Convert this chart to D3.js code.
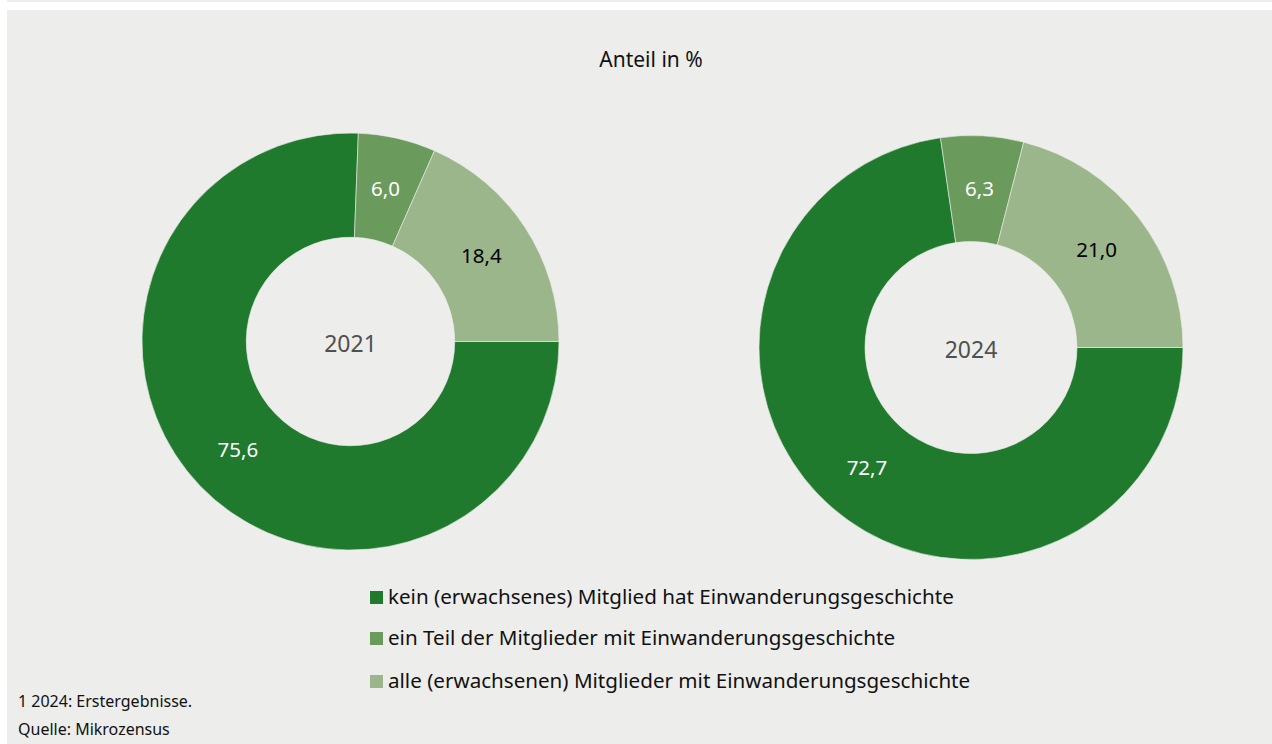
<!DOCTYPE html>
<html><head><meta charset="utf-8">
<script src="https://cdn.jsdelivr.net/npm/d3@7"></script>
<style>
html,body{margin:0;padding:0;background:#fff;}
svg{display:block;font-family:"Noto Sans","Open Sans",sans-serif;}
</style></head>
<body>
<svg id="chart" width="1272" height="744"></svg>
<script>
const categories = [
  "kein (erwachsenes) Mitglied hat Einwanderungsgeschichte",
  "ein Teil der Mitglieder mit Einwanderungsgeschichte",
  "alle (erwachsenen) Mitglieder mit Einwanderungsgeschichte"
];
const years = ["2021", "2024"];
const values2021 = [75.6, 6.0, 18.4];
const values2024 = [72.7, 6.3, 21.0];
const colors = ["#1f7a2d", "#6a9a5c", "#9bb68a"];
const labelColors = ["#ffffff", "#ffffff", "#000000"];
const title = "Anteil in %";
const footnotes = ["1 2024: Erstergebnisse.", "Quelle: Mikrozensus"];

const svg = d3.select("#chart");
svg.append("rect").attr("x",7).attr("y",0).attr("width",1265).attr("height",2).attr("fill","#ededeb");
svg.append("rect").attr("x",7).attr("y",10).attr("width",1265).attr("height",734).attr("fill","#ededeb");

svg.append("text").attr("x",651).attr("y",67).attr("text-anchor","middle")
  .attr("font-size",21).attr("fill","#111").text(title);

const fmt = v => d3.format(".1f")(v).replace(".", ",");
const pie = d3.pie().sort(null).value(d => d)
  .startAngle(Math.PI/2).endAngle(Math.PI/2 + 2*Math.PI);
const color = d3.scaleOrdinal().domain(d3.range(3)).range(colors);

const donuts = [
  {year: years[0], values: values2021, cx: 350.5, cy: 341.5, r: 208.5},
  {year: years[1], values: values2024, cx: 971, cy: 347.5, r: 212}
];

donuts.forEach(dn => {
  const g = svg.append("g").attr("transform", `translate(${dn.cx},${dn.cy})`);
  const arc = d3.arc().innerRadius(dn.r*0.5).outerRadius(dn.r);
  const arcs = pie(dn.values);
  g.selectAll("path").data(arcs).join("path")
    .attr("d", arc).attr("fill", (d,i) => color(i))
    .attr("stroke", "#ededeb").attr("stroke-width", 0.6);
  g.selectAll("text.lbl").data(arcs).join("text").attr("class","lbl")
    .attr("transform", d => `translate(${arc.centroid(d)})`)
    .attr("text-anchor","middle").attr("dy","0.35em")
    .attr("font-size",20.5).attr("fill",(d,i) => labelColors[i])
    .text(d => fmt(d.data));
  g.append("text").attr("text-anchor","middle").attr("y",2.5).attr("dy","0.36em")
    .attr("font-size",23).attr("fill","#505050").text(dn.year);
});

const leg = svg.append("g");
const legY = [597, 638, 681];
categories.forEach((c,i) => {
  leg.append("rect").attr("x",370).attr("y",legY[i]-6).attr("width",13).attr("height",13).attr("fill",colors[i]);
  leg.append("text").attr("x",388).attr("y",legY[i]).attr("dy","0.35em")
    .attr("font-size",20.6).attr("fill","#111").text(c);
});

svg.append("text").attr("x",18).attr("y",707).attr("font-size",16).attr("fill","#111").text(footnotes[0]);
svg.append("text").attr("x",18).attr("y",735).attr("font-size",16).attr("fill","#111").text(footnotes[1]);
</script>
</body></html>
